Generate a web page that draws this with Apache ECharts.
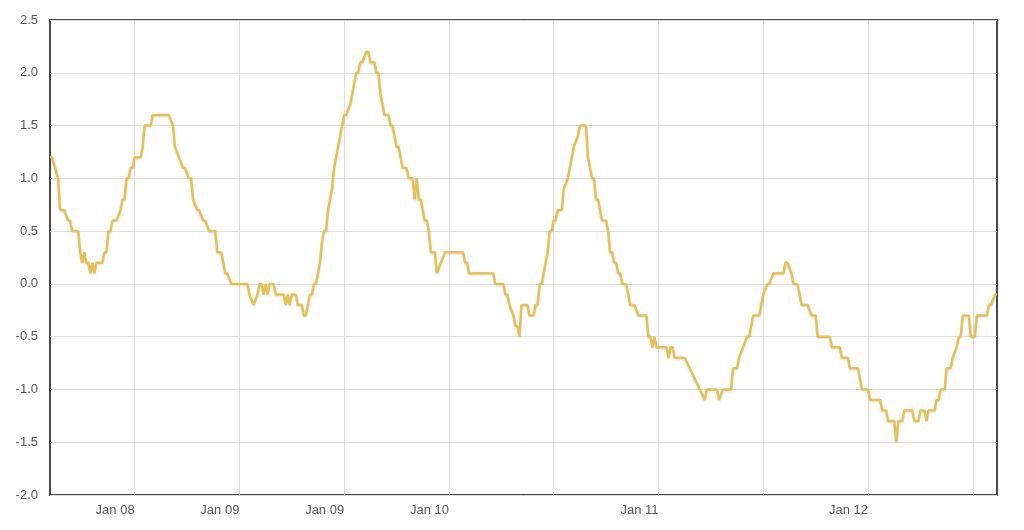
<!DOCTYPE html>
<html>
<head>
<meta charset="utf-8">
<title>Index chart</title>
<script src="https://cdn.jsdelivr.net/npm/echarts@6/dist/echarts.min.js"></script>
<style>
  html, body { margin: 0; padding: 0; background: #fff; }
  #chart { width: 1024px; height: 530px; }
</style>
</head>
<body>
<div id="chart"></div>
<script>
// x categories: one slot per sample step (about two days each)
var dayIndex = [];
for (var d = 0; d <= 470; d++) dayIndex.push(String(d));

// gridlines / tick labels every 52 slots, starting at slot 42
var tickStart = 42;
var tickEvery = 52;
var tickLabels = ["Jan 08", "Jan 09", "Jan 09", "Jan 10", "", "Jan 11", "", "Jan 12", ""];

var levels = [
  [0,1.2],[1,1.2],[4,1.0],[5,0.7],[7,0.7],[9,0.6],[10,0.6],[11,0.5],[14,0.5],[15,0.3],
  [16,0.2],[17,0.3],[18,0.2],[19,0.2],[20,0.1],[21,0.2],[22,0.1],[23,0.2],[26,0.2],[27,0.3],
  [28,0.3],[29,0.5],[30,0.5],[31,0.6],[33,0.6],[35,0.7],[36,0.8],[37,0.8],[38,1.0],[39,1.0],
  [40,1.1],[41,1.1],[42,1.2],[45,1.2],[46,1.3],[47,1.5],[50,1.5],[51,1.6],[59,1.6],[61,1.5],
  [62,1.3],[64,1.2],[66,1.1],[67,1.1],[69,1.0],[70,1.0],[71,0.8],[73,0.7],[74,0.7],[76,0.6],
  [77,0.6],[79,0.5],[82,0.5],[83,0.3],[85,0.3],[87,0.1],[88,0.1],[90,0],[98,0],[99,-0.1],
  [101,-0.2],[103,-0.1],[104,0],[105,0],[106,-0.1],[107,0],[108,-0.1],[109,0],[111,0],[112,-0.1],
  [116,-0.1],[117,-0.2],[118,-0.1],[119,-0.2],[120,-0.1],[122,-0.1],[123,-0.2],[125,-0.2],[126,-0.3],[127,-0.3],
  [128,-0.2],[129,-0.1],[130,-0.1],[131,0],[132,0],[133,0.1],[134,0.2],[135,0.4],[136,0.5],[137,0.5],
  [138,0.7],[139,0.8],[140,0.9],[141,1.1],[142,1.2],[143,1.3],[144,1.4],[145,1.5],[146,1.6],[147,1.6],
  [149,1.7],[150,1.8],[151,1.9],[152,2.0],[153,2.0],[154,2.1],[155,2.1],[157,2.2],[158,2.2],[159,2.1],
  [161,2.1],[162,2.0],[163,2.0],[164,1.8],[165,1.7],[166,1.6],[168,1.6],[169,1.5],[170,1.5],[171,1.4],
  [172,1.3],[173,1.3],[174,1.2],[175,1.1],[177,1.1],[178,1.0],[180,1.0],[181,0.8],[182,1.0],[183,0.8],
  [184,0.8],[185,0.7],[186,0.6],[187,0.6],[188,0.5],[189,0.3],[191,0.3],[192,0.1],[194,0.2],[196,0.3],
  [205,0.3],[206,0.2],[207,0.2],[208,0.1],[220,0.1],[221,0],[225,0],[226,-0.1],[227,-0.1],[228,-0.2],
  [230,-0.3],[231,-0.4],[232,-0.4],[233,-0.5],[234,-0.2],[237,-0.2],[238,-0.3],[240,-0.3],[241,-0.2],[242,-0.2],
  [243,0],[244,0],[245,0.1],[246,0.2],[247,0.3],[248,0.5],[249,0.5],[250,0.6],[251,0.6],[252,0.7],
  [254,0.7],[255,0.9],[257,1.0],[258,1.1],[259,1.2],[260,1.3],[262,1.4],[263,1.5],[266,1.5],[267,1.2],
  [268,1.1],[269,1.0],[270,1.0],[271,0.8],[272,0.8],[273,0.7],[274,0.6],[276,0.6],[277,0.5],[278,0.3],
  [279,0.3],[280,0.2],[281,0.2],[282,0.1],[283,0.1],[284,0],[286,0],[287,-0.1],[288,-0.2],[290,-0.2],
  [292,-0.3],[296,-0.3],[297,-0.5],[298,-0.5],[299,-0.6],[300,-0.5],[301,-0.6],[306,-0.6],[307,-0.7],[308,-0.6],
  [309,-0.6],[310,-0.7],[315,-0.7],[325,-1.1],[326,-1.0],[331,-1.0],[332,-1.1],[334,-1.0],[338,-1.0],[339,-0.8],
  [341,-0.8],[342,-0.7],[344,-0.6],[346,-0.5],[347,-0.5],[349,-0.3],[352,-0.3],[353,-0.2],[354,-0.1],[356,0],
  [357,0],[359,0.1],[364,0.1],[365,0.2],[366,0.2],[368,0.1],[369,0],[371,0],[373,-0.2],[376,-0.2],
  [378,-0.3],[380,-0.3],[381,-0.5],[387,-0.5],[388,-0.6],[392,-0.6],[393,-0.7],[396,-0.7],[397,-0.8],[401,-0.8],
  [403,-1.0],[406,-1.0],[407,-1.1],[412,-1.1],[413,-1.2],[415,-1.2],[416,-1.3],[419,-1.3],[420,-1.5],[421,-1.3],
  [423,-1.3],[424,-1.2],[428,-1.2],[429,-1.3],[431,-1.3],[432,-1.2],[434,-1.2],[435,-1.3],[436,-1.2],[439,-1.2],
  [440,-1.1],[441,-1.1],[442,-1.0],[444,-1.0],[445,-0.8],[447,-0.8],[448,-0.7],[450,-0.6],[451,-0.5],[452,-0.5],
  [453,-0.3],[456,-0.3],[457,-0.5],[459,-0.5],[460,-0.3],[465,-0.3],[466,-0.2],[467,-0.2],[469,-0.1],[470,-0.1]
];

function isTick(index) {
  return index >= tickStart && (index - tickStart) % tickEvery === 0;
}

var chart = echarts.init(document.getElementById("chart"));
var option = {
  animation: false,
  backgroundColor: "#fff",
  textStyle: { fontFamily: "Liberation Sans, Arial, sans-serif" },
  grid: {
    left: 50,
    top: 20,
    width: 947,
    height: 475,
    show: true,
    borderColor: "#484848",
    borderWidth: 2
  },
  xAxis: {
    type: "category",
    data: dayIndex,
    boundaryGap: false,
    axisLine: { show: false },
    axisTick: { show: false, interval: isTick },
    axisLabel: {
      interval: isTick,
      align: "right",
      margin: 9,
      color: "#555",
      fontSize: 13,
      formatter: function (value, index) {
        var k = (Number(value) - tickStart) / tickEvery;
        return tickLabels[k] || "";
      }
    },
    splitLine: {
      show: true,
      interval: isTick,
      lineStyle: { color: "#dedede", width: 1 }
    }
  },
  yAxis: {
    type: "value",
    min: -2,
    max: 2.5,
    interval: 0.5,
    axisLine: { show: false },
    axisTick: { show: false },
    axisLabel: {
      margin: 12,
      color: "#555",
      fontSize: 13,
      formatter: function (v) { return v.toFixed(1); }
    },
    splitLine: { lineStyle: { color: "#dedede", width: 1 } }
  },
  series: [
    {
      type: "line",
      data: levels,
      showSymbol: false,
      lineStyle: {
        color: "#e5c057",
        width: 2.5,
        shadowColor: "rgba(0,0,0,0.12)",
        shadowBlur: 2,
        shadowOffsetY: 1
      },
      z: 3
    }
  ]
};
chart.setOption(option);
</script>
</body>
</html>
